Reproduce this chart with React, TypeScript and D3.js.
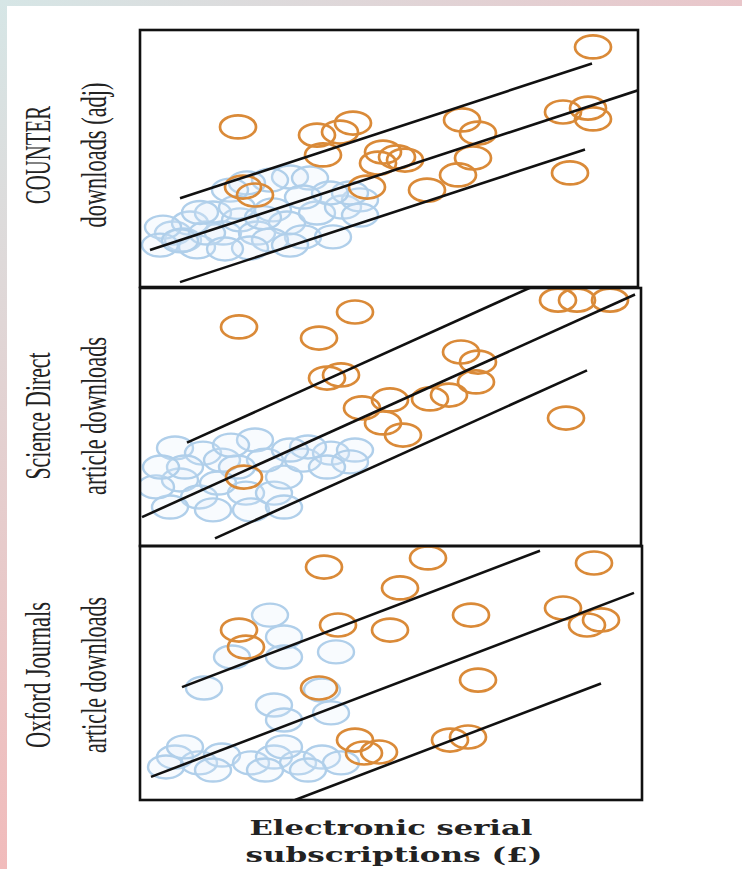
import React from "react";
import * as d3 from "d3";

type P = [number, number];

// ---- data (arbitrary units: x = subscriptions, y = downloads, 0-100 per panel)
const panelTitles: string[][] = [
  ["COUNTER", "downloads (adj)"],
  ["Science Direct", "article downloads"],
  ["Oxford Journals", "article downloads"],
];
const xAxisTitle = ["Electronic serial", "subscriptions (£)"];

const counterOrange: P[] = [
  [90.6, 93.4], [19.6, 62.3], [35.4, 59.1], [42.6, 63.8], [40, 60.3], [36.6, 51.4],
  [64.4, 65], [67.6, 59.9], [84.6, 68.1], [89.6, 69.6], [90.6, 65.4], [48.6, 52.5],
  [51.4, 50.6], [47.6, 48.2], [53, 49.4], [66.6, 50.2], [63.6, 43.6], [57.4, 37.7],
  [45.4, 38.9], [86, 44.4], [20.6, 38.9], [23, 35.8],
];
const counterBlue: P[] = [
  [30, 42.8], [26, 41.6], [21.4, 40.5], [18, 37.7], [34, 42.4], [6.6, 21], [10, 24.9],
  [8.6, 18.3], [14.6, 28.8], [16.6, 21], [20, 26.1], [23.4, 21], [26.6, 30], [29.4, 24.9],
  [32.6, 19.5], [35.4, 28.8], [38.6, 19.5], [40.6, 31.1], [44, 33.9], [42, 36.6], [38, 36.6],
  [32.6, 35], [11.4, 15.6], [26, 18.3], [4.6, 23.3], [13.4, 21], [4, 16.3], [22, 15.2],
  [30, 16.3], [12, 29], [19.4, 31], [24.6, 27], [8, 18], [17, 14.8], [44, 28],
];
const sdOrange: P[] = [
  [19.8, 84.9], [43, 90.7], [35.8, 80.6], [37.4, 65.1], [40.2, 66.3], [64.2, 75.2],
  [67.6, 71.3], [67.2, 63.6], [61.8, 58.5], [58, 57], [50, 56.6], [44.4, 53.5],
  [48.6, 47.7], [52.6, 43], [85.2, 49.6], [83.6, 95.3], [87.4, 95.3], [94, 95.3], [20.8, 26.7],
];
const sdBlue: P[] = [
  [7, 38], [12.6, 36], [23, 41.1], [16.4, 33.3], [8, 25.6], [11.8, 19], [6, 15.1],
  [14.6, 14], [21.2, 20.5], [26.8, 20.5], [28.8, 26.7], [32.6, 33.3], [38.2, 36], [43, 37.2],
  [42, 32.6], [37.4, 30.6], [25, 33.3], [19.4, 30.6], [3.2, 22.9], [9, 30.6], [15.6, 24.4],
  [22.2, 14], [28.8, 15.1], [4.2, 30.6], [33.6, 38.4], [18.2, 39.1], [30, 37.2],
];
const ojOrange: P[] = [
  [36.8, 91.7], [57.6, 95.3], [52, 83.5], [90.8, 93.3], [19.8, 66.9], [21.2, 60.2],
  [39.6, 68.9], [50, 66.9], [66.2, 72.8], [84.6, 75.6], [89.4, 68.9], [92.2, 70.9],
  [35.8, 44.1], [67.6, 47.2], [43, 23.6], [44.8, 18.5], [47.8, 18.9], [62, 23.6], [65.6, 24.8],
];
const ojBlue: P[] = [
  [26, 72.8], [28.8, 64.2], [18.4, 56.3], [28.8, 56.3], [39.2, 58.3], [12.8, 44.1],
  [26.8, 37.4], [28.8, 31.5], [38.2, 34.3], [36.4, 43.3], [7, 16.9], [11.8, 14.6],
  [16.4, 17.7], [22.2, 14.6], [26.8, 16.9], [31.6, 14.6], [36.4, 16.9], [40.2, 14.6],
  [5.2, 13], [14.6, 11.8], [25, 11.8], [33.6, 11.8], [9, 20.9], [28.8, 20.9],
];

// regression fit: slope, intercept, band half-width; x-extent of upper, mid, lower lines
const fitSlope = [0.637, 0.875, 0.75];
const fitIntercept = [13.1, 10.85, 7.45];
const fitBand = [16.3, 21, 30.7];
const upperRange: P[] = [[8, 90.4], [9.4, 78], [8.4, 80]];
const midRange: P[] = [[2, 99.6], [0.4, 99], [2.2, 98.8]];
const lowerRange: P[] = [[8, 89], [15, 89.4], [31, 92.2]];

const oranges = [counterOrange, sdOrange, ojOrange];
const blues = [counterBlue, sdBlue, ojBlue];

// ---- layout
const W = 742, H = 869;
const panelBoxes = [
  { x0: 140, x1: 638, y0: 30, y1: 287 },
  { x0: 140, x1: 641, y0: 288, y1: 546 },
  { x0: 140, x1: 642, y0: 546, y1: 800 },
];
const labelCenters = [155, 416, 675];
const labelLens = [[98, 145], [127, 158], [146, 156]];

const ORANGE = "#da8a38";
const BLUE = "#b0cfea";

export default function App() {
  const x = d3.scaleLinear().domain([0, 100]).range([140, 640]);
  return (
    <svg width={W} height={H} style={{ position: "absolute", left: 0, top: 0, display: "block" }}>
      <defs>
        <linearGradient id="topg" x1="0" x2="1" y1="0" y2="0">
          <stop offset="0" stopColor="#d6e6e6" />
          <stop offset="1" stopColor="#e9c6ca" />
        </linearGradient>
        <linearGradient id="leftg" x1="0" x2="0" y1="0" y2="1">
          <stop offset="0" stopColor="#d6e6e6" />
          <stop offset="1" stopColor="#f1bbbb" />
        </linearGradient>
        {panelBoxes.map((b, i) => (
          <clipPath id={`clip${i}`} key={i}>
            <rect x={b.x0} y={b.y0} width={b.x1 - b.x0} height={b.y1 - b.y0} />
          </clipPath>
        ))}
      </defs>
      <rect x={0} y={0} width={W} height={H} fill="#ffffff" />
      <rect x={0} y={0} width={W} height={6} fill="url(#topg)" />
      <rect x={0} y={0} width={7} height={H} fill="url(#leftg)" />

      {panelBoxes.map((b, i) => {
        const y = d3.scaleLinear().domain([0, 100]).range([b.y1, b.y0]);
        const line = d3.line<P>().x((d) => x(d[0])).y((d) => y(d[1]));
        const f = (xv: number, off: number): P => [xv, fitIntercept[i] + fitSlope[i] * xv + off];
        const segs: [P[], number][] = [
          [upperRange[i].map((v) => f(v, fitBand[i])), 0],
          [midRange[i].map((v) => f(v, 0)), 1],
          [lowerRange[i].map((v) => f(v, -fitBand[i])), 2],
        ];
        return (
          <g key={i}>
            <g clipPath={`url(#clip${i})`}>
              {blues[i].map((d, j) => (
                <ellipse key={"b" + j} cx={x(d[0])} cy={y(d[1])} rx={18} ry={11.5}
                  fill="#dcecf8" fillOpacity={0.2} stroke={BLUE} strokeWidth={2.4} />
              ))}
              {oranges[i].map((d, j) => (
                <ellipse key={"o" + j} cx={x(d[0])} cy={y(d[1])} rx={18} ry={11.5}
                  fill="none" stroke={ORANGE} strokeWidth={2.7} />
              ))}
              {segs.map(([pts, k]) => (
                <path key={"l" + k} d={line(pts) || ""} stroke="#111" strokeWidth={2.6} fill="none" />
              ))}
            </g>
            <rect x={b.x0} y={b.y0} width={b.x1 - b.x0} height={b.y1 - b.y0}
              fill="none" stroke="#111" strokeWidth={2.6} />
            <g transform={`translate(0, ${labelCenters[i]}) rotate(-90)`}
              fontFamily="'Liberation Serif', serif" fontSize={36} fill="#222">
              <text x={0} y={50} textAnchor="middle" textLength={labelLens[i][0]}
                lengthAdjust="spacingAndGlyphs">{panelTitles[i][0]}</text>
              <text x={0} y={106} textAnchor="middle" textLength={labelLens[i][1]}
                lengthAdjust="spacingAndGlyphs">{panelTitles[i][1]}</text>
            </g>
          </g>
        );
      })}

      <g fontFamily="'DejaVu Serif', serif" fontWeight="bold" fontSize={20} fill="#222">
        <text x={391} y={835} textAnchor="middle" textLength={283} lengthAdjust="spacingAndGlyphs">
          {xAxisTitle[0]}
        </text>
        <text x={394} y={862} textAnchor="middle" textLength={297} lengthAdjust="spacingAndGlyphs">
          {xAxisTitle[1]}
        </text>
      </g>
    </svg>
  );
}
